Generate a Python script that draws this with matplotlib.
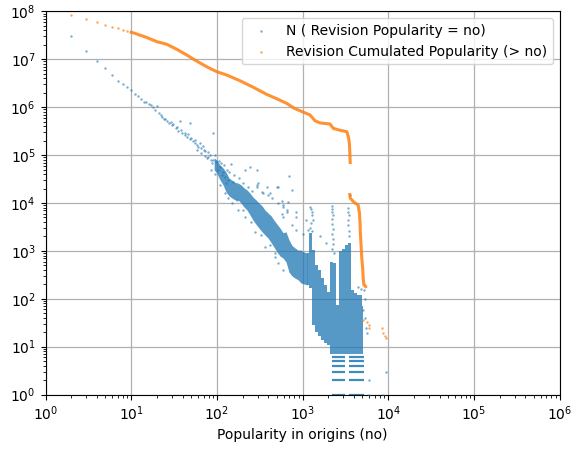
import numpy as np
import matplotlib
matplotlib.use("Agg")
import matplotlib.pyplot as plt
from matplotlib.ticker import LogLocator

# Blue series: N(Revision Popularity = no), sparse points
blue_x = [2, 3, 4, 5, 6, 7, 8, 9, 10, 11, 12, 13, 14, 15, 16, 17, 18, 19, 20, 21,
          22, 23, 24, 25, 26, 28, 29, 30, 31, 33, 34, 35, 37, 38, 39, 42, 43, 45, 46, 48,
          48, 50, 53, 55, 56, 58, 60, 59, 63, 66, 68, 70, 73, 76, 79, 83, 87, 89, 91, 99,
          104, 109, 114, 119, 124, 128, 130, 136,
          148, 155, 170, 213, 244, 292, 292, 298, 348, 380, 400, 418, 440, 506, 522, 570,
          580, 590, 595, 650, 650, 685, 700, 745, 850, 850, 1110, 1160, 1600, 1900,
          1220, 1250, 1280, 1300, 1330, 1250, 1230, 1300,
          2190, 2200, 2220, 2250, 2200, 2230, 2260, 2210, 2240, 2280, 2200, 2300,
          3420, 3400, 3450, 3430, 3380, 3500, 3450, 3560,
          5100, 5300, 5500, 5600, 6000, 6000, 8700, 9300, 5400, 5200, 4400, 4800,
          304, 333, 522, 595, 745, 850, 1020, 135, 178, 214, 280, 365, 475, 522, 595,
          65, 72, 78, 85, 95, 105, 112, 120, 140, 160, 180, 200, 230, 260,
          85, 95, 110, 125, 150, 200, 250, 330, 420, 480]
blue_y = [3.1e7, 1.49e7, 9.3e6, 6.6e6, 4.6e6, 3.6e6, 3.05e6, 2.6e6, 2.3e6, 1.89e6,
          1.7e6, 1.46e6, 1.3e6, 1.27e6, 1.17e6, 1.12e6, 9.95e5, 8.6e5, 1.07e6, 7.5e5,
          7.0e5, 6.2e5, 5.6e5, 5.8e5, 5.2e5, 4.7e5, 5.0e5, 4.26e5, 4.4e5, 3.6e5,
          3.9e5, 3.26e5, 5.2e5, 3.3e5, 2.85e5, 2.9e5, 2.6e5, 2.4e5, 2.7e5, 2.2e5,
          4.7e5, 2.3e5, 1.97e5, 2.1e5, 1.75e5, 1.6e5, 1.5e5, 1.28e5, 1.8e5, 1.38e5,
          1.55e5, 1.3e5, 1.22e5, 8.5e4, 1.17e5, 1.0e5, 6.7e4, 2.9e5, 7.9e4, 7.3e4,
          4.9e4, 5.7e4, 3.8e4, 4.5e4, 3.5e4, 2.6e4, 4.8e4, 3.0e4,
          6.5e4, 2.8e4, 1.15e4, 4.9e4, 5.7e4, 4.9e4, 2.4e4, 2.2e4, 1.6e4, 2.2e4,
          1.47e4, 1.6e4, 1.25e4, 2.2e4, 2.2e4, 1.1e4, 6.0e3, 8.4e3, 9.1e3, 6.6e3,
          7.0e3, 1.06e4, 3.7e4, 1.9e4, 5.2e3, 6.6e3, 4.4e3, 2.7e3, 2.0e3, 1.45e3,
          8.4e3, 7.5e3, 6.5e3, 5.6e3, 4.5e3, 3.8e3, 3.0e3, 2.6e3,
          8.8e3, 7.6e3, 6.6e3, 5.6e3, 4.7e3, 3.7e3, 2.9e3, 2.3e3, 1.8e3, 1.4e3, 1.1e3, 900,
          7.7e3, 6.6e3, 5.5e3, 4.4e3, 3.4e3, 2.6e3, 2.0e3, 1.47e4,
          58, 40, 25, 19, 2, 1, 1, 3, 100, 150, 180, 160,
          2.6e4, 1.7e4, 1.0e4, 5.1e3, 3.5e3, 2.7e3, 2.3e3, 1.25e4, 7.1e3, 5.2e3, 2.5e3,
          1.2e3, 750, 550, 400,
          1.1e5, 9.5e4, 9.0e4, 8.0e4, 1.0e5, 7.5e4, 6.8e4, 6.2e4, 4.5e4, 3.8e4, 3.3e4,
          2.6e4, 2.2e4, 1.8e4,
          5.0e4, 4.0e4, 2.4e4, 1.6e4, 1.0e4, 7.0e3, 4.0e3, 2.1e3, 1.3e3, 900]

# Dense part of the blue cloud: popularity and the count range it covers
band_x = [93, 100, 109, 118, 128, 139, 150, 163, 177, 191, 208, 225, 244, 264, 286,
          310, 337, 365, 395, 429, 464, 504, 546, 592, 641, 695, 753, 817, 885, 959,
          1040, 1127, 1222, 1324, 1436, 1556, 1687, 1828, 1982, 2148, 2329, 2524,
          2736, 2966, 3215, 3485, 3780, 4100, 4445, 4820, 5100]
band_lo = [4.9e4, 4.2e4, 3.0e4, 2.4e4, 1.7e4, 1.4e4, 1.27e4, 1.16e4, 1.16e4, 1.0e4,
           8.2e3, 7.1e3, 5.6e3, 4.4e3, 3.6e3, 3.0e3, 2.5e3, 2.15e3, 1.86e3, 1.5e3,
           1.2e3, 950, 780, 710, 590, 360, 300, 270, 250, 214, 204, 194, 168, 28, 20,
           16.7, 13.8, 11.9, 10.8, 7, 7, 7, 7, 7, 7, 7, 7, 7, 7, 7, 7]
band_hi = [8.7e4, 7.9e4, 6.2e4, 5.4e4, 4.4e4, 3.3e4, 3.0e4, 2.7e4, 2.6e4, 2.4e4,
           2.06e4, 1.87e4, 1.6e4, 1.33e4, 1.16e4, 1.0e4, 8.7e3, 7.1e3, 6.2e3, 5.4e3,
           4.4e3, 3.6e3, 3.0e3, 2.4e3, 2.5e3, 1.7e3, 1.3e3, 1.15e3, 1.04e3, 1.04e3,
           950, 900, 2.4e3, 1.04e3, 508, 400, 272, 194, 139, 590, 560, 74, 1.0e3,
           1.1e3, 1.3e3, 1.45e3, 150, 130, 120, 120, 70]
smooth_end = 32   # band is a smooth cloud up to here, then narrow columns

# Low counts (1..6) form rows across two popularity groups
row_counts = [1, 2, 3, 4, 5, 6]
row_groups = [(2200, 3150), (3450, 5150)]

# Orange series: Revision Cumulated Popularity (> no)
orange_dots_x = [2, 3, 4, 5, 6, 7, 8, 9]
orange_dots_y = [8.4e7, 6.9e7, 5.9e7, 5.2e7, 4.7e7, 4.4e7, 4.1e7, 3.9e7]
orange_body_x = [10, 11, 12, 15, 20, 26, 34, 44.5, 58, 76, 100, 130, 186, 267, 382,
                 500, 654, 800, 1000, 1220, 1400, 1600, 2090, 2290, 2740, 3280, 3430,
                 3520, 3560, 3600]
orange_body_y = [3.66e7, 3.5e7, 3.3e7, 2.88e7, 2.33e7, 2.06e7, 1.62e7, 1.23e7, 9.2e6,
                 7.0e6, 5.5e6, 4.7e6, 3.57e6, 2.6e6, 1.85e6, 1.5e6, 1.2e6, 9.5e5, 8.0e5,
                 6.9e5, 5.2e5, 4.7e5, 4.46e5, 3.6e5, 3.3e5, 3.09e5, 2.4e5, 1.76e5,
                 1.17e5, 7.0e4]
orange_tail_x = [3560, 3600, 3920, 4140, 4450, 4620, 4690, 4720, 4780, 4900, 5050,
                 5100, 5200, 5360, 5450]
orange_tail_y = [1.5e4, 1.26e4, 1.07e4, 9.9e3, 9.1e3, 6.1e3, 3.8e3, 2.5e3, 1.7e3,
                 760, 400, 270, 194, 190, 180]
orange_end_x = [5100, 5720, 5900, 6030, 8400, 8800, 9100, 9300]
orange_end_y = [36, 33, 28, 24, 24, 19, 17, 15]

blue = '#1f77b4'
orange = '#ff7f0e'

fig = plt.figure(figsize=(5.71, 4.49), dpi=100)
ax = fig.add_axes([0.0797, 0.1212, 0.9003, 0.8534])

# dense cloud: smooth diagonal part, then the stepped columns
k = smooth_end
ax.fill_between(band_x[:k], band_lo[:k], band_hi[:k], color=blue, alpha=0.75,
                lw=0, zorder=2)
ax.fill_between(band_x[k - 1:], band_lo[k - 1:], band_hi[k - 1:], step='mid',
                color=blue, alpha=0.75, lw=0, zorder=2)
for lo, hi in row_groups:
    ax.hlines(row_counts, lo, hi, color=blue, lw=1.6, alpha=0.85, zorder=2)
ax.scatter(blue_x, blue_y, s=3, color=blue, alpha=0.6, linewidths=0, zorder=3,
           label='N ( Revision Popularity = no)')

ax.plot(orange_body_x, orange_body_y, color=orange, lw=2.2, alpha=0.85, zorder=4)
ax.plot(orange_tail_x, orange_tail_y, color=orange, lw=2.2, alpha=0.85, zorder=4)
ax.scatter(orange_dots_x + orange_end_x, orange_dots_y + orange_end_y, s=3,
           color=orange, alpha=0.7, linewidths=0, zorder=4,
           label='Revision Cumulated Popularity (> no)')

ax.set_xscale('log')
ax.set_yscale('log')
ax.set_xlim(1, 1e6)
ax.set_ylim(1, 1e8)
ax.set_xticks([10.0 ** i for i in range(7)])
ax.set_yticks([10.0 ** i for i in range(9)])
ax.xaxis.set_minor_locator(LogLocator(base=10, subs=np.arange(2, 10), numticks=100))
ax.yaxis.set_minor_locator(LogLocator(base=10, subs=np.arange(2, 10), numticks=100))
ax.grid(True, which='major', color='#b0b0b0', lw=0.9)
ax.set_axisbelow(True)
ax.set_xlabel('Popularity in origins (no)')
ax.legend(loc='upper right', markerscale=1.0)

fig.savefig('out.png', dpi=100)
